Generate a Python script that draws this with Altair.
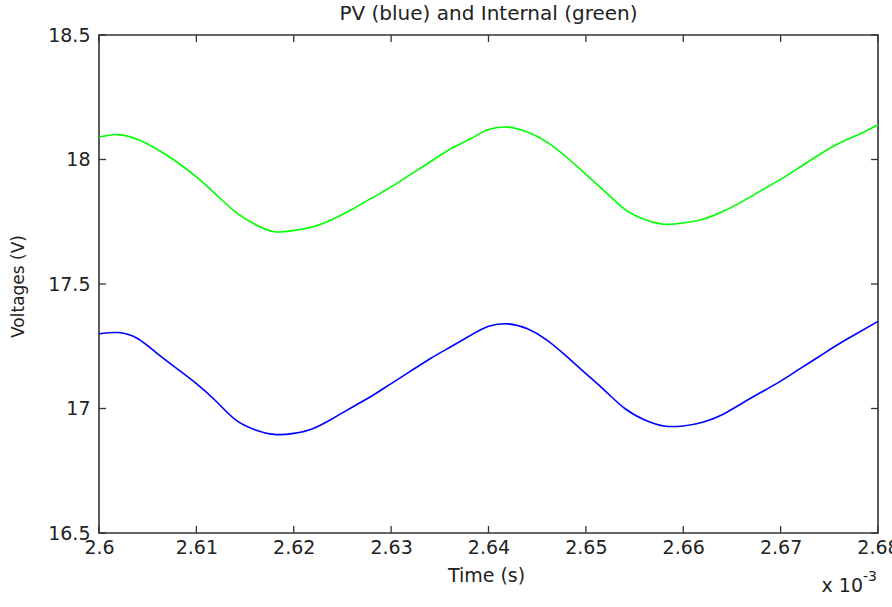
import altair as alt
import pandas as pd

# time in units of 1e-3 s
time_ms = [2.600, 2.602, 2.604, 2.606, 2.608, 2.610, 2.612, 2.614, 2.616, 2.618,
           2.620, 2.622, 2.624, 2.626, 2.628, 2.630, 2.632, 2.634, 2.636, 2.638,
           2.640, 2.642, 2.644, 2.646, 2.648, 2.650, 2.652, 2.654, 2.656, 2.658,
           2.660, 2.662, 2.664, 2.666, 2.668, 2.670, 2.672, 2.674, 2.676, 2.678,
           2.680]

internal_v = [18.09, 18.10, 18.08, 18.04, 17.99, 17.93, 17.86, 17.79, 17.74, 17.71,
              17.715, 17.73, 17.76, 17.80, 17.845, 17.89, 17.94, 17.99, 18.04, 18.08,
              18.12, 18.13, 18.11, 18.07, 18.01, 17.94, 17.87, 17.80, 17.76, 17.74,
              17.745, 17.76, 17.79, 17.83, 17.875, 17.92, 17.97, 18.02, 18.065, 18.10,
              18.14]

pv_v = [17.30, 17.305, 17.28, 17.22, 17.16, 17.10, 17.03, 16.955, 16.915, 16.896,
        16.90, 16.92, 16.96, 17.005, 17.05, 17.10, 17.15, 17.20, 17.245, 17.29,
        17.33, 17.34, 17.32, 17.275, 17.21, 17.14, 17.07, 17.00, 16.955, 16.93,
        16.93, 16.945, 16.975, 17.02, 17.065, 17.11, 17.16, 17.21, 17.26, 17.305,
        17.35]

x_ticks = [2.60, 2.61, 2.62, 2.63, 2.64, 2.65, 2.66, 2.67, 2.68]
y_ticks = [16.5, 17.0, 17.5, 18.0, 18.5]

series_names = ["PV", "Internal"]
series_colors = ["#0000ff", "#00ff00"]

W, H = 779, 498
FONT = "DejaVu Sans"
TXT = "#222222"
TICK = 7

rows = []
for t, v in zip(time_ms, pv_v):
    rows.append({"t": t, "v": v, "series": "PV"})
for t, v in zip(time_ms, internal_v):
    rows.append({"t": t, "v": v, "series": "Internal"})
df = pd.DataFrame(rows)

xs = alt.Scale(domain=[2.6, 2.68], nice=False, zero=False)
ys = alt.Scale(domain=[16.5, 18.5], nice=False, zero=False)

x_axis = alt.Axis(
    values=x_ticks, format="~r", title="Time (s)", ticks=False, domain=False,
    grid=False, labelFont=FONT, labelFontSize=19, labelColor=TXT,
    labelPadding=5, labelFlush=False, labelOverlap=False,
    titleFont=FONT, titleFontSize=19, titleFontWeight="normal", titleColor=TXT,
    titleX=387, titleY=42, titleBaseline="middle", titleAlign="center")
y_axis = alt.Axis(
    values=y_ticks, format="~r", title="Voltages (V)", ticks=False, domain=False,
    grid=False, labelFont=FONT, labelFontSize=19, labelColor=TXT,
    labelPadding=9, labelFlush=False, labelOverlap=False,
    titleFont=FONT, titleFontSize=17, titleFontWeight="normal", titleColor=TXT,
    titleX=-81, titleY=251, titleBaseline="middle", titleAlign="center", titleAngle=270)

lines = alt.Chart(df).mark_line(strokeWidth=1.6, interpolate="natural").encode(
    x=alt.X("t:Q", scale=xs, axis=x_axis),
    y=alt.Y("v:Q", scale=ys, axis=y_axis),
    color=alt.Color("series:N", scale=alt.Scale(domain=series_names, range=series_colors), legend=None),
    detail="series:N",
)

xt = pd.DataFrame({"t": x_ticks})
yt = pd.DataFrame({"v": y_ticks})

bottom_ticks = alt.Chart(xt).mark_rule(color="#333333", strokeWidth=1.3).encode(
    x=alt.X("t:Q", scale=xs, axis=x_axis), y=alt.value(H), y2=alt.value(H - TICK))
top_ticks = alt.Chart(xt).mark_rule(color="#333333", strokeWidth=1.3).encode(
    x=alt.X("t:Q", scale=xs, axis=x_axis), y=alt.value(0), y2=alt.value(TICK))
left_ticks = alt.Chart(yt).mark_rule(color="#333333", strokeWidth=1.3).encode(
    y=alt.Y("v:Q", scale=ys, axis=y_axis), x=alt.value(0), x2=alt.value(TICK))
right_ticks = alt.Chart(yt).mark_rule(color="#333333", strokeWidth=1.3).encode(
    y=alt.Y("v:Q", scale=ys, axis=y_axis), x=alt.value(W), x2=alt.value(W - TICK))

exp_base = alt.Chart(pd.DataFrame({"a": [0]})).mark_text(
    text="x 10", font=FONT, fontSize=19, color=TXT, align="right", baseline="alphabetic"
).encode(x=alt.value(W - 15), y=alt.value(H + 59))
exp_sup = alt.Chart(pd.DataFrame({"a": [0]})).mark_text(
    text="-3", font=FONT, fontSize=14, color=TXT, align="left", baseline="alphabetic"
).encode(x=alt.value(W - 15), y=alt.value(H + 48))

chart = alt.layer(
    lines, bottom_ticks, top_ticks, left_ticks, right_ticks, exp_base, exp_sup
).properties(
    width=W, height=H,
    title=alt.TitleParams("PV (blue) and Internal (green)", font=FONT, fontSize=20,
                          fontWeight="normal", color=TXT, anchor="middle", offset=2),
    autosize=alt.AutoSizeParams(type="none"),
    padding={"left": 99, "top": 35, "right": 14, "bottom": 74},
).configure(
    background="white",
    view=alt.ViewConfig(stroke="#333333", strokeWidth=1.6),
)

chart.save("out.html", embed_options={"renderer": "svg", "actions": False})
